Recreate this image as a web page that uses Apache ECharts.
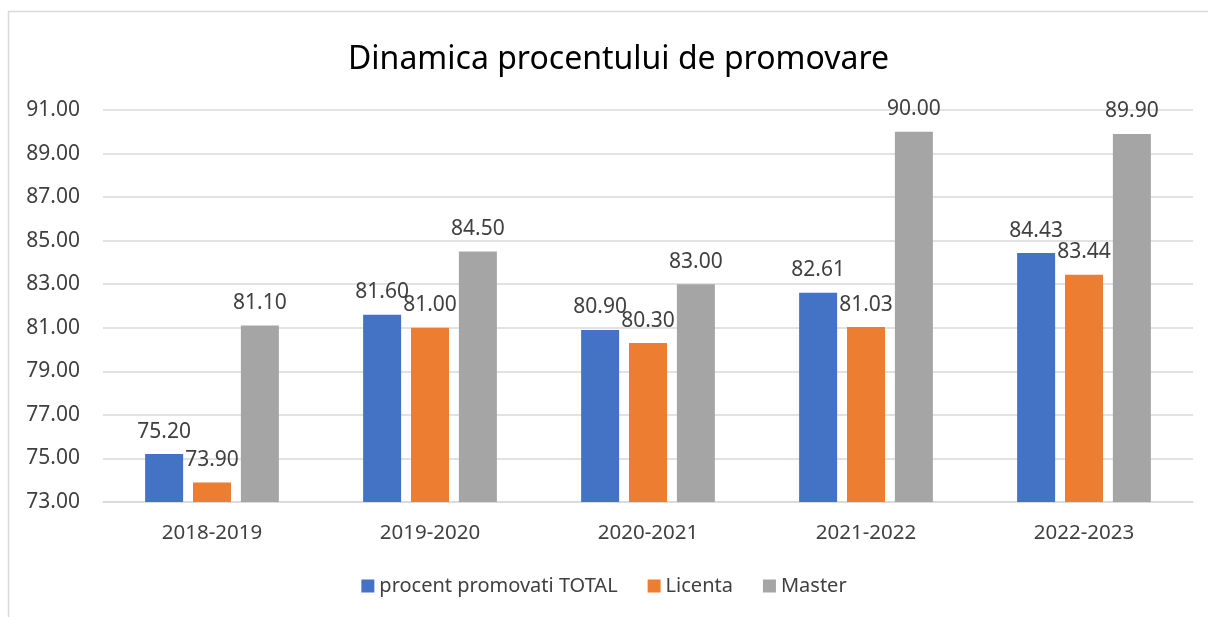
<!DOCTYPE html>
<html>
<head>
<meta charset="utf-8">
<script src="https://cdn.jsdelivr.net/npm/echarts@6/dist/echarts.min.js"></script>
<style>
  html, body { margin: 0; padding: 0; background: #fff; }
  #main { width: 1208px; height: 617px; }
</style>
</head>
<body>
<div id="main"></div>
<script>
// date
var years = ['2018-2019', '2019-2020', '2020-2021', '2021-2022', '2022-2023'];
var totalValues = [75.20, 81.60, 80.90, 82.61, 84.43];
var licentaValues = [73.90, 81.00, 80.30, 81.03, 83.44];
var masterValues = [81.10, 84.50, 83.00, 90.00, 89.90];
var seriesNames = ['procent promovati TOTAL', 'Licenta', 'Master'];
var colors = ['#4472C4', '#ED7D31', '#A5A5A5'];

var FONT = 'Noto Sans';

function barSeries(name, data, color) {
    return {
        name: name,
        type: 'bar',
        data: data,
        barWidth: 38,
        barGap: '26%',
        itemStyle: { color: color },
        label: {
            show: true,
            position: 'top',
            distance: 12,
            color: '#404040',
            fontFamily: FONT,
            fontSize: 21,
            formatter: function (p) { return p.value.toFixed(2); }
        }
    };
}

var myChart = echarts.init(document.getElementById('main'));

var option = {
    backgroundColor: '#ffffff',
    animation: false,
    color: colors,
    graphic: [{
        type: 'rect',
        shape: { x: 8.5, y: 11.5, width: 1300, height: 700 },
        style: { fill: 'none', stroke: '#d9d9d9', lineWidth: 1.5 },
        silent: true
    }],
    title: {
        text: 'Dinamica procentului de promovare',
        left: 343,
        top: 39,
        textStyle: {
            fontFamily: FONT,
            fontSize: 32,
            fontWeight: 'normal',
            color: '#000000'
        }
    },
    legend: {
        data: seriesNames,
        bottom: 16,
        left: 'center',
        icon: 'rect',
        itemWidth: 13,
        itemHeight: 13,
        itemGap: 30,
        textStyle: { fontFamily: FONT, fontSize: 20, color: '#404040' }
    },
    grid: {
        left: 103,
        right: 15,
        top: 110,
        bottom: 115
    },
    xAxis: {
        type: 'category',
        data: years,
        axisTick: { show: false },
        axisLine: { lineStyle: { color: '#d9d9d9', width: 1.5 } },
        axisLabel: {
            margin: 21,
            fontFamily: FONT,
            fontSize: 20.5,
            color: '#404040'
        }
    },
    yAxis: {
        type: 'value',
        min: 73,
        max: 91,
        interval: 2,
        axisLine: { show: false },
        axisTick: { show: false },
        splitLine: { lineStyle: { color: '#d9d9d9', width: 1.5 } },
        axisLabel: {
            margin: 23,
            fontFamily: FONT,
            fontSize: 21,
            color: '#404040',
            formatter: function (v) { return v.toFixed(2); }
        }
    },
    series: [
        barSeries(seriesNames[0], totalValues, colors[0]),
        barSeries(seriesNames[1], licentaValues, colors[1]),
        barSeries(seriesNames[2], masterValues, colors[2])
    ]
};

myChart.setOption(option);
</script>
</body>
</html>
